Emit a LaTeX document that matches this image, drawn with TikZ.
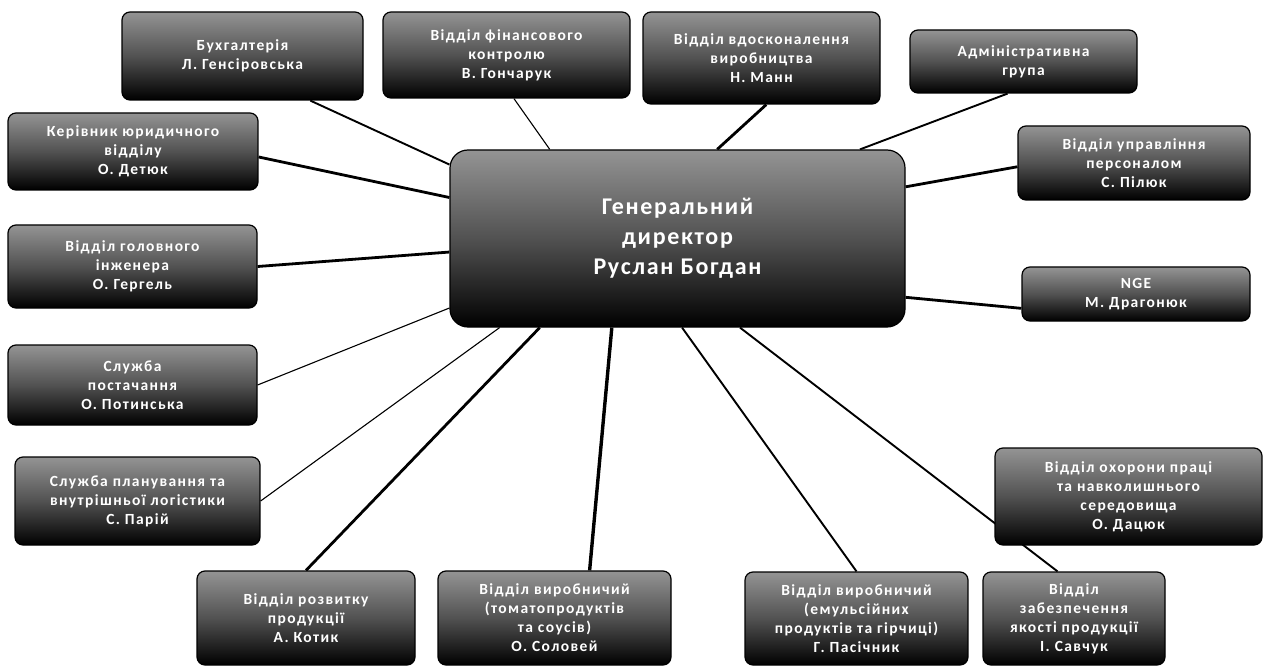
\documentclass[tikz,border=0pt]{standalone}
\usepackage{fontspec}
\setmainfont{Carlito}
\newfontfamily\boxfont[LetterSpace=9]{Carlito}
\newfontfamily\bigfont[LetterSpace=7]{Carlito}
\usetikzlibrary{calc,backgrounds}
\begin{document}
\begin{tikzpicture}[x=1pt,y=-1pt,
  orgbox/.style={rectangle, rounded corners=8pt, draw=black, line width=1.2pt,
    top color=black!42, bottom color=black, middle color=black!68,
    text=white, align=center, inner sep=0pt,
    font=\boxfont\bfseries\fontsize{15.5}{19}\selectfont},
  chiefbox/.style={orgbox, rounded corners=18pt,
    font=\bigfont\bfseries\fontsize{24}{30}\selectfont},
  thickc/.style={line width=2.8pt},
  medc/.style={line width=1.9pt},
  thinc/.style={line width=1.1pt}]
\useasboundingbox (0,0) rectangle (1263,668);

\node[chiefbox, minimum width=455pt, minimum height=177pt] (gd) at (677.5,238.5)
  {Генеральний\\директор\\Руслан Богдан};

\node[orgbox, minimum width=241pt, minimum height=88pt] (buh) at (242.5,56)
  {Бухгалтерія\\Л. Генсіровська};
\node[orgbox, minimum width=247pt, minimum height=86pt] (fin) at (506.5,55)
  {Відділ фінансового\\контролю\\В. Гончарук};
\node[orgbox, minimum width=237pt, minimum height=92pt] (vdosk) at (761.5,58)
  {Відділ вдосконалення\\виробництва\\Н. Манн};
\node[orgbox, minimum width=227pt, minimum height=63pt] (adm) at (1023.5,61.5)
  {Адміністративна\\група};
\node[orgbox, minimum width=232pt, minimum height=74pt] (pers) at (1134,163)
  {Відділ управління\\персоналом\\С. Пілюк};
\node[orgbox, minimum width=228pt, minimum height=54pt] (nge) at (1136,294)
  {NGE\\М. Драгонюк};
\node[orgbox, minimum width=250pt, minimum height=77pt] (yur) at (133,151.5)
  {Керівник юридичного\\відділу\\О. Детюк};
\node[orgbox, minimum width=249pt, minimum height=83pt] (inzh) at (132.5,266.5)
  {Відділ головного\\інженера\\О. Гергель};
\node[orgbox, minimum width=249pt, minimum height=80pt] (post) at (132.5,385)
  {Служба\\постачання\\О. Потинська};
\node[orgbox, minimum width=245pt, minimum height=88pt] (plan) at (137.5,501)
  {Служба планування та\\внутрішньої логістики\\С. Парій};
\node[orgbox, minimum width=218pt, minimum height=94pt] (rozv) at (306,618)
  {Відділ розвитку\\продукції\\А. Котик};
\node[orgbox, minimum width=233pt, minimum height=94pt] (tom) at (554.5,618)
  {Відділ виробничий\\(томатопродуктів\\та соусів)\\О. Соловей};
\node[orgbox, minimum width=223pt, minimum height=93pt] (emul) at (856.5,618.5)
  {Відділ виробничий\\(емульсійних\\продуктів та гірчиці)\\Г. Пасічник};
\node[orgbox, minimum width=182pt, minimum height=93pt] (yak) at (1074,618.5)
  {Відділ\\забезпечення\\якості продукції\\І. Савчук};
\node[orgbox, minimum width=267pt, minimum height=97pt] (okh) at (1128.5,496.5)
  {Відділ охорони праці\\та навколишнього\\середовища\\О. Дацюк};

\begin{scope}[on background layer]
\draw[medc]  ($(buh.south west)!0.78!(buh.south east)$) -- ($(gd.north west)!0.085!(gd.south west)$);
\draw[thinc] ($(fin.south west)!0.53!(fin.south east)$) -- ($(gd.north west)!0.22!(gd.north east)$);
\draw[thickc] ($(vdosk.south west)!0.52!(vdosk.south east)$) -- ($(gd.north west)!0.587!(gd.north east)$);
\draw[medc]  ($(adm.south west)!0.43!(adm.south east)$) -- ($(gd.north west)!0.90!(gd.north east)$);
\draw[thickc] ($(pers.north west)!0.55!(pers.south west)$) -- ($(gd.north east)!0.21!(gd.south east)$);
\draw[thickc] ($(nge.north west)!0.76!(nge.south west)$) -- ($(gd.north east)!0.83!(gd.south east)$);
\draw[thickc] ($(yur.north east)!0.57!(yur.south east)$) -- ($(gd.north west)!0.27!(gd.south west)$);
\draw[thickc] (inzh.east) -- ($(gd.north west)!0.576!(gd.south west)$);
\draw[thinc] (post.east) -- ($(gd.north west)!0.89!(gd.south west)$);
\draw[thinc] (plan.east) -- ($(gd.south west)!0.11!(gd.south east)$);
\draw[thickc] (rozv.north) -- ($(gd.south west)!0.198!(gd.south east)$);
\draw[line width=3.4pt] ($(tom.north west)!0.65!(tom.north east)$) -- ($(gd.south west)!0.356!(gd.south east)$);
\draw[medc] (emul.north) -- ($(gd.south west)!0.51!(gd.south east)$);
\draw[medc] ($(yak.north west)!0.41!(yak.north east)$) -- ($(gd.south west)!0.637!(gd.south east)$);
\end{scope}
\end{tikzpicture}
\end{document}
